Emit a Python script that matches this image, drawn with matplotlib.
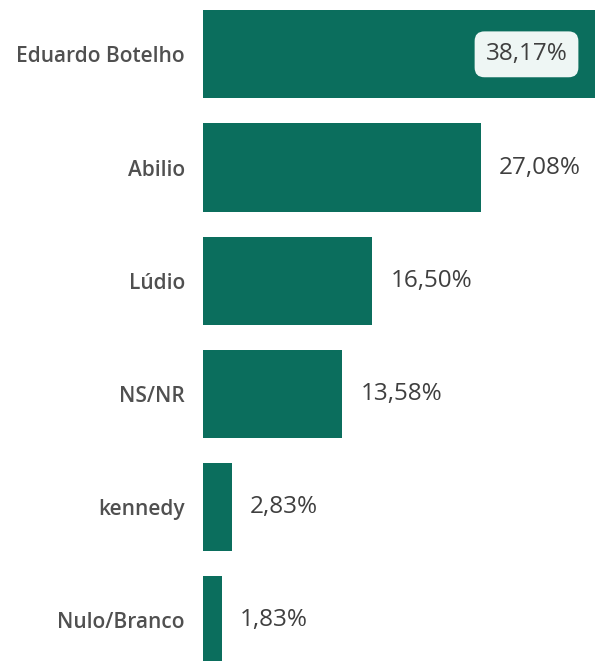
import matplotlib.pyplot as plt

# Poll results (percent), top to bottom
candidates = ['Eduardo Botelho', 'Abilio', 'Lúdio', 'NS/NR', 'kennedy', 'Nulo/Branco']
shares = [38.17, 27.08, 16.50, 13.58, 2.83, 1.83]
labels = ['38,17%', '27,08%', '16,50%', '13,58%', '2,83%', '1,83%']

bar_color = '#0b6e5d'
text_color = '#3f3f3f'

plt.rcParams['font.family'] = ['Open Sans', 'DejaVu Sans']

fig = plt.figure(figsize=(6.0, 6.61), dpi=100)
ax = fig.add_axes([203 / 600, 0, 397 / 600, 1])

ypos = list(range(len(candidates)))
ax.barh(ypos, shares, height=0.78, color=bar_color)
ax.set_xlim(0, 38.7)
ax.set_ylim(5.36, -0.48)

for y, v, lab in zip(ypos, shares, labels):
    if y == 0:
        # biggest bar gets its label inside, in a light rounded box
        ax.annotate(lab, (v, y), xytext=(-49, 0), textcoords='offset points',
                    ha='center', va='center', fontsize=17.5, color=text_color,
                    bbox=dict(boxstyle='round,pad=0.45,rounding_size=0.4',
                              fc='#eef6f4', ec='none'))
    else:
        ax.annotate(lab, (v, y), xytext=(13, 0), textcoords='offset points',
                    ha='left', va='center', fontsize=17.5, color=text_color)

ax.set_yticks(ypos)
ax.set_yticklabels(candidates, fontsize=15, color='#505050', fontweight='semibold')
ax.tick_params(axis='y', length=0, pad=13)
ax.set_xticks([])
for s in ax.spines.values():
    s.set_visible(False)

fig.savefig('out.png', dpi=100)
